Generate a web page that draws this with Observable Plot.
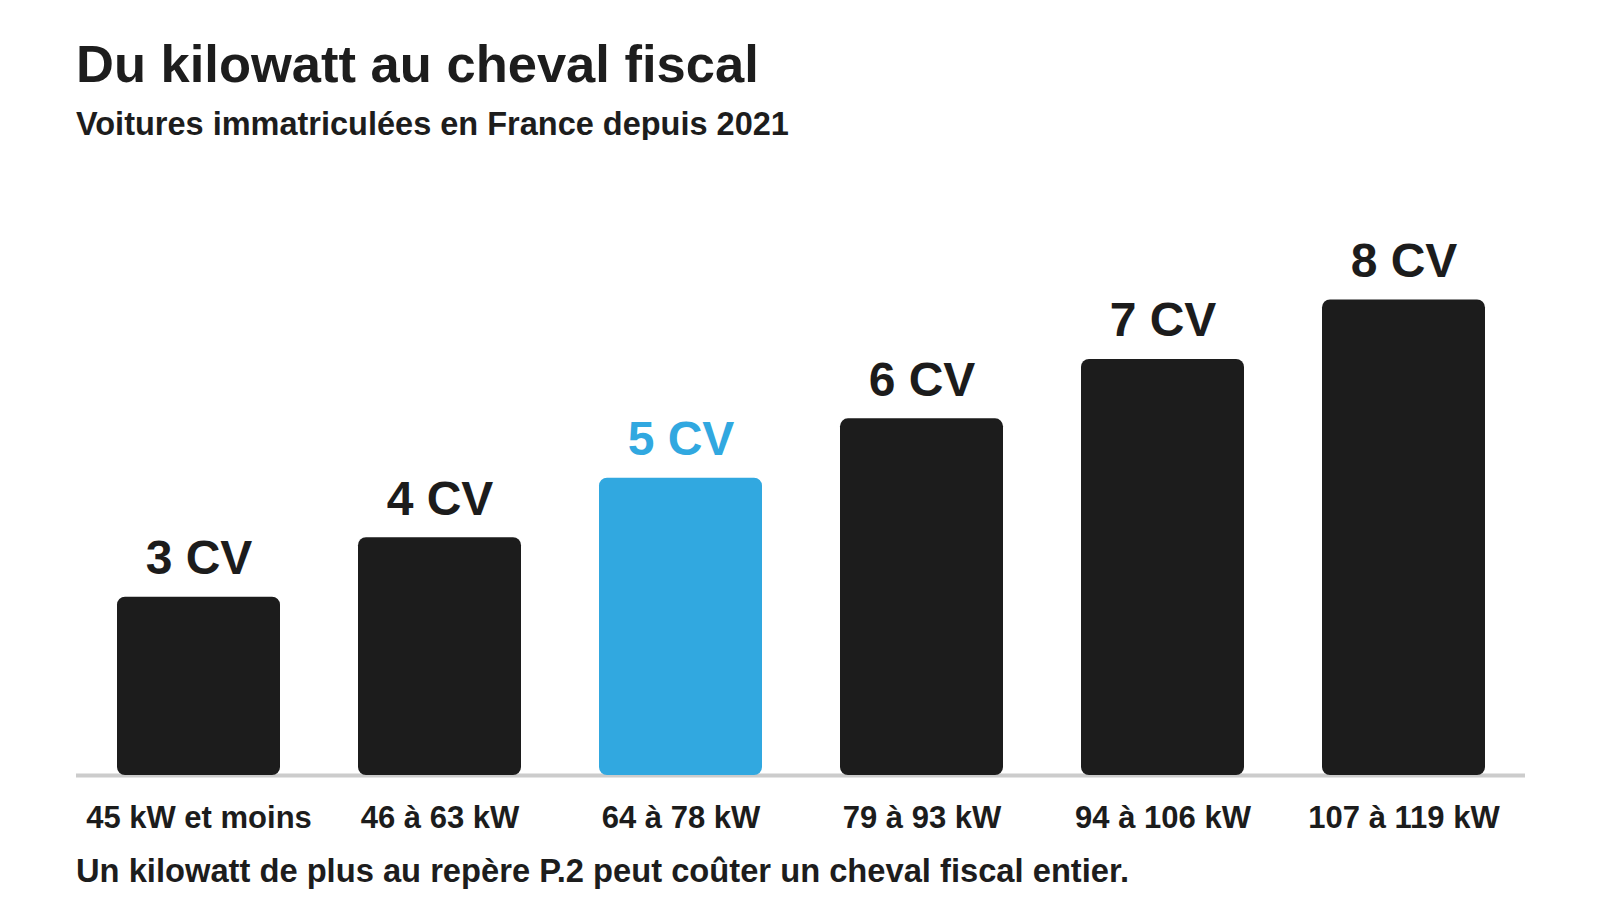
<!DOCTYPE html>
<html>
<head>
<meta charset="utf-8">
<script src="https://cdn.jsdelivr.net/npm/d3@7"></script>
<script src="https://cdn.jsdelivr.net/npm/@observablehq/plot@0.6"></script>
<style>
  html, body { margin: 0; padding: 0; background: #ffffff; }
  #page { position: relative; width: 1600px; height: 900px; overflow: hidden; font-family: "Liberation Sans", Arial, Helvetica, sans-serif; color: #1d1d1d; }
  .title { position: absolute; left: 76px; top: 38px; font-size: 52.5px; line-height: 52px; font-weight: bold; white-space: nowrap; }
  .subtitle { position: absolute; left: 76px; top: 108px; font-size: 32.5px; line-height: 32px; font-weight: bold; white-space: nowrap; }
  .caption { position: absolute; left: 76px; top: 855px; font-size: 32.7px; line-height: 32px; font-weight: bold; white-space: nowrap; }
  #chart { position: absolute; left: 0; top: 140px; }
</style>
</head>
<body>
<div id="page">
  <div class="title">Du kilowatt au cheval fiscal</div>
  <div class="subtitle">Voitures immatriculées en France depuis 2021</div>
  <div id="chart"></div>
  <div class="caption">Un kilowatt de plus au repère P.2 peut coûter un cheval fiscal entier.</div>
</div>
<script>
const categories = ["45 kW et moins", "46 à 63 kW", "64 à 78 kW", "79 à 93 kW", "94 à 106 kW", "107 à 119 kW"];
const chevaux = [3, 4, 5, 6, 7, 8];
const valueLabels = ["3 CV", "4 CV", "5 CV", "6 CV", "7 CV", "8 CV"];
const highlighted = "64 à 78 kW";

const BLACK = "#1c1c1c";
const BLUE = "#31a8e0";

const data = categories.map((c, i) => ({
  category: c,
  cv: chevaux[i],
  label: valueLabels[i],
  color: c === highlighted ? BLUE : BLACK
}));

const chart = Plot.plot({
  width: 1600,
  height: 700,
  marginLeft: 76,
  marginRight: 75,
  marginTop: 100,
  marginBottom: 65,
  style: {
    fontFamily: "'Liberation Sans', Arial, Helvetica, sans-serif",
    fontSize: "31px",
    fontWeight: "bold",
    color: BLACK,
    background: "white"
  },
  x: { domain: categories, paddingInner: 0.325, paddingOuter: 0.16, label: null },
  y: { domain: [0, 9], axis: null },
  marks: [
    Plot.ruleY([0], { stroke: "#cccccc", strokeWidth: 4 }),
    Plot.barY(data, { x: "category", y: "cv", fill: d => d.color, rx: 8 }),
    Plot.text(data, {
      x: "category",
      y: "cv",
      text: "label",
      fill: d => d.color,
      lineAnchor: "bottom",
      dy: -23,
      fontSize: 48,
      fontWeight: "bold"
    }),
    Plot.axisX({ tickSize: 0, tickPadding: 30, fontSize: 31, fontWeight: "bold", label: null })
  ]
});
document.getElementById("chart").appendChild(chart);
</script>
</body>
</html>
